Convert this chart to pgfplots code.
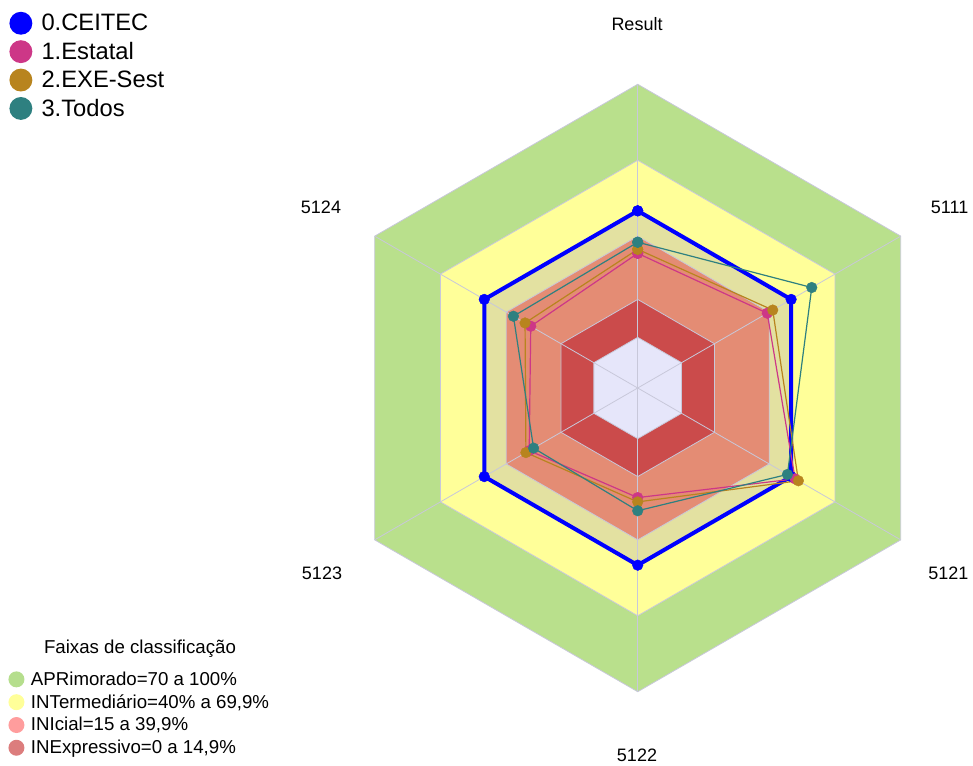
\documentclass[border=0pt]{standalone}
\usepackage{pgfplots}
\usepackage{pgfplotstable}
\pgfplotsset{compat=1.18}
\usepackage{fontspec}
\setmainfont{Liberation Sans}

\definecolor{cgreen}{RGB}{185,224,140}
\definecolor{cyellow}{RGB}{255,255,153}
\definecolor{ckhaki}{RGB}{227,225,161}
\definecolor{csalmon}{RGB}{228,140,116}
\definecolor{cdred}{RGB}{203,75,75}
\definecolor{clav}{RGB}{230,230,250}
\definecolor{cgrid}{RGB}{200,200,218}
\definecolor{cblue}{RGB}{0,0,255}
\definecolor{cpink}{RGB}{205,55,135}
\definecolor{cgold}{RGB}{184,132,30}
\definecolor{cteal}{RGB}{46,128,128}
\definecolor{lgreen}{RGB}{181,222,141}
\definecolor{lyellow}{RGB}{255,255,153}
\definecolor{lpink}{RGB}{255,157,157}
\definecolor{lred}{RGB}{220,125,125}

\pgfplotstableread{
a ceitec estatal exe todos
90 50 33.2 34.8 37.6
30 50 39.1 41.6 59.4
-30 50 51.8 53.3 48.3
-90 50 23.3 25.0 28.5
-150 50 29.5 31.0 27.5
150 50 28.8 31.4 36.7
90 50 33.2 34.8 37.6
}\scores

\pgfplotstableread{
a apr int ini ine lo
90 100 70 40 15 0
30 100 70 40 15 0
-30 100 70 40 15 0
-90 100 70 40 15 0
-150 100 70 40 15 0
150 100 70 40 15 0
90 100 70 40 15 0
}\bands

\newcommand{\RX}[1]{637.7+2.531*(\thisrow{#1}+20)*cos(\thisrow{a})}
\newcommand{\RY}[1]{375+2.531*(\thisrow{#1}+20)*sin(\thisrow{a})}

\begin{document}
\begin{tikzpicture}
\begin{axis}[name=main, x=0.75pt, y=0.75pt, xmin=0, xmax=973, ymin=0, ymax=763,
  hide axis, clip=false,
  legend image code/.code={\fill[#1, draw=none] (0pt,0pt) circle (8.6pt);},
  legend cell align=left,
  legend style={at={(0.0094,0.9849)}, anchor=north west, draw=none, fill=none,
    inner sep=0pt, nodes={inner sep=1pt}, row sep=4.1pt,
    font=\fontsize{17.8}{21}\selectfont,
    /tikz/every odd column/.append style={column sep=5.9pt}}]
\path (axis cs:0,0) rectangle (axis cs:973,763);
% bands
\addplot[forget plot, fill=cgreen, draw=cgrid, line width=0.6pt] table[x expr=\RX{apr}, y expr=\RY{apr}] {\bands};
\addplot[forget plot, fill=cyellow, draw=cgrid, line width=0.6pt] table[x expr=\RX{int}, y expr=\RY{int}] {\bands};
\addplot[forget plot, fill=ckhaki, draw=none] table[x expr=\RX{ceitec}, y expr=\RY{ceitec}] {\scores};
\addplot[forget plot, fill=csalmon, draw=cgrid, line width=0.6pt] table[x expr=\RX{ini}, y expr=\RY{ini}] {\bands};
\addplot[forget plot, fill=cdred, draw=cgrid, line width=0.6pt] table[x expr=\RX{ine}, y expr=\RY{ine}] {\bands};
\addplot[forget plot, fill=clav, draw=cgrid, line width=0.6pt] table[x expr=\RX{lo}, y expr=\RY{lo}] {\bands};
% spokes
\pgfplotsinvokeforeach{90,30,-30,-90,-150,150}{
\addplot[forget plot, cgrid, line width=0.6pt] table[row sep=\\, x expr=\RX{v}, y expr=\RY{v}] {a v\\ #1 -20\\ #1 100\\};
}
% series
\addplot[forget plot, cblue, line width=3pt, mark=*, mark size=4pt, mark options={solid, line width=0.3pt}] table[x expr=\RX{ceitec}, y expr=\RY{ceitec}] {\scores};
\addplot[forget plot, cpink, line width=0.9pt, mark=*, mark size=4pt, mark options={solid, line width=0.3pt}] table[x expr=\RX{estatal}, y expr=\RY{estatal}] {\scores};
\addplot[forget plot, cgold, line width=0.9pt, mark=*, mark size=4pt, mark options={solid, line width=0.3pt}] table[x expr=\RX{exe}, y expr=\RY{exe}] {\scores};
\addplot[forget plot, cteal, line width=0.9pt, mark=*, mark size=4pt, mark options={solid, line width=0.3pt}] table[x expr=\RX{todos}, y expr=\RY{todos}] {\scores};
% labels
\node[font=\fontsize{13.5}{16}\selectfont] at (axis cs:637,739) {Result};
\node[font=\fontsize{13.5}{16}\selectfont, anchor=east] at (axis cs:973,556) {5111};
\node[font=\fontsize{13.5}{16}\selectfont, anchor=east] at (axis cs:973,190) {5121};
\node[font=\fontsize{13.5}{16}\selectfont] at (axis cs:637,8) {5122};
\node[font=\fontsize{13.5}{16}\selectfont] at (axis cs:322,190) {5123};
\node[font=\fontsize{13.5}{16}\selectfont] at (axis cs:321,556) {5124};
\node[font=\fontsize{14}{17}\selectfont] at (axis cs:140,114) {Faixas de classificação};
\addlegendimage{fill=cblue}\addlegendentry{0.CEITEC}
\addlegendimage{fill=cpink}\addlegendentry{1.Estatal}
\addlegendimage{fill=cgold}\addlegendentry{2.EXE-Sest}
\addlegendimage{fill=cteal}\addlegendentry{3.Todos}
\end{axis}
\begin{axis}[at={(main.south west)}, anchor=south west, x=0.75pt, y=0.75pt, xmin=0, xmax=973, ymin=0, ymax=763,
  hide axis, clip=false,
  legend image code/.code={\fill[#1, draw=none] (0pt,0pt) circle (6pt);},
  legend cell align=left,
  legend style={at={(0.0084,0.1219)}, anchor=north west, draw=none, fill=none,
    inner sep=0pt, nodes={inner sep=1pt}, row sep=3.4pt,
    font=\fontsize{14}{17}\selectfont,
    /tikz/every odd column/.append style={column sep=3.9pt}}]
\addlegendimage{fill=lgreen}\addlegendentry{APRimorado=70 a 100\%}
\addlegendimage{fill=lyellow}\addlegendentry{INTermediário=40\% a 69,9\%}
\addlegendimage{fill=lpink}\addlegendentry{INIcial=15 a 39,9\%}
\addlegendimage{fill=lred}\addlegendentry{INExpressivo=0 a 14,9\%}
\end{axis}
\end{tikzpicture}
\end{document}
